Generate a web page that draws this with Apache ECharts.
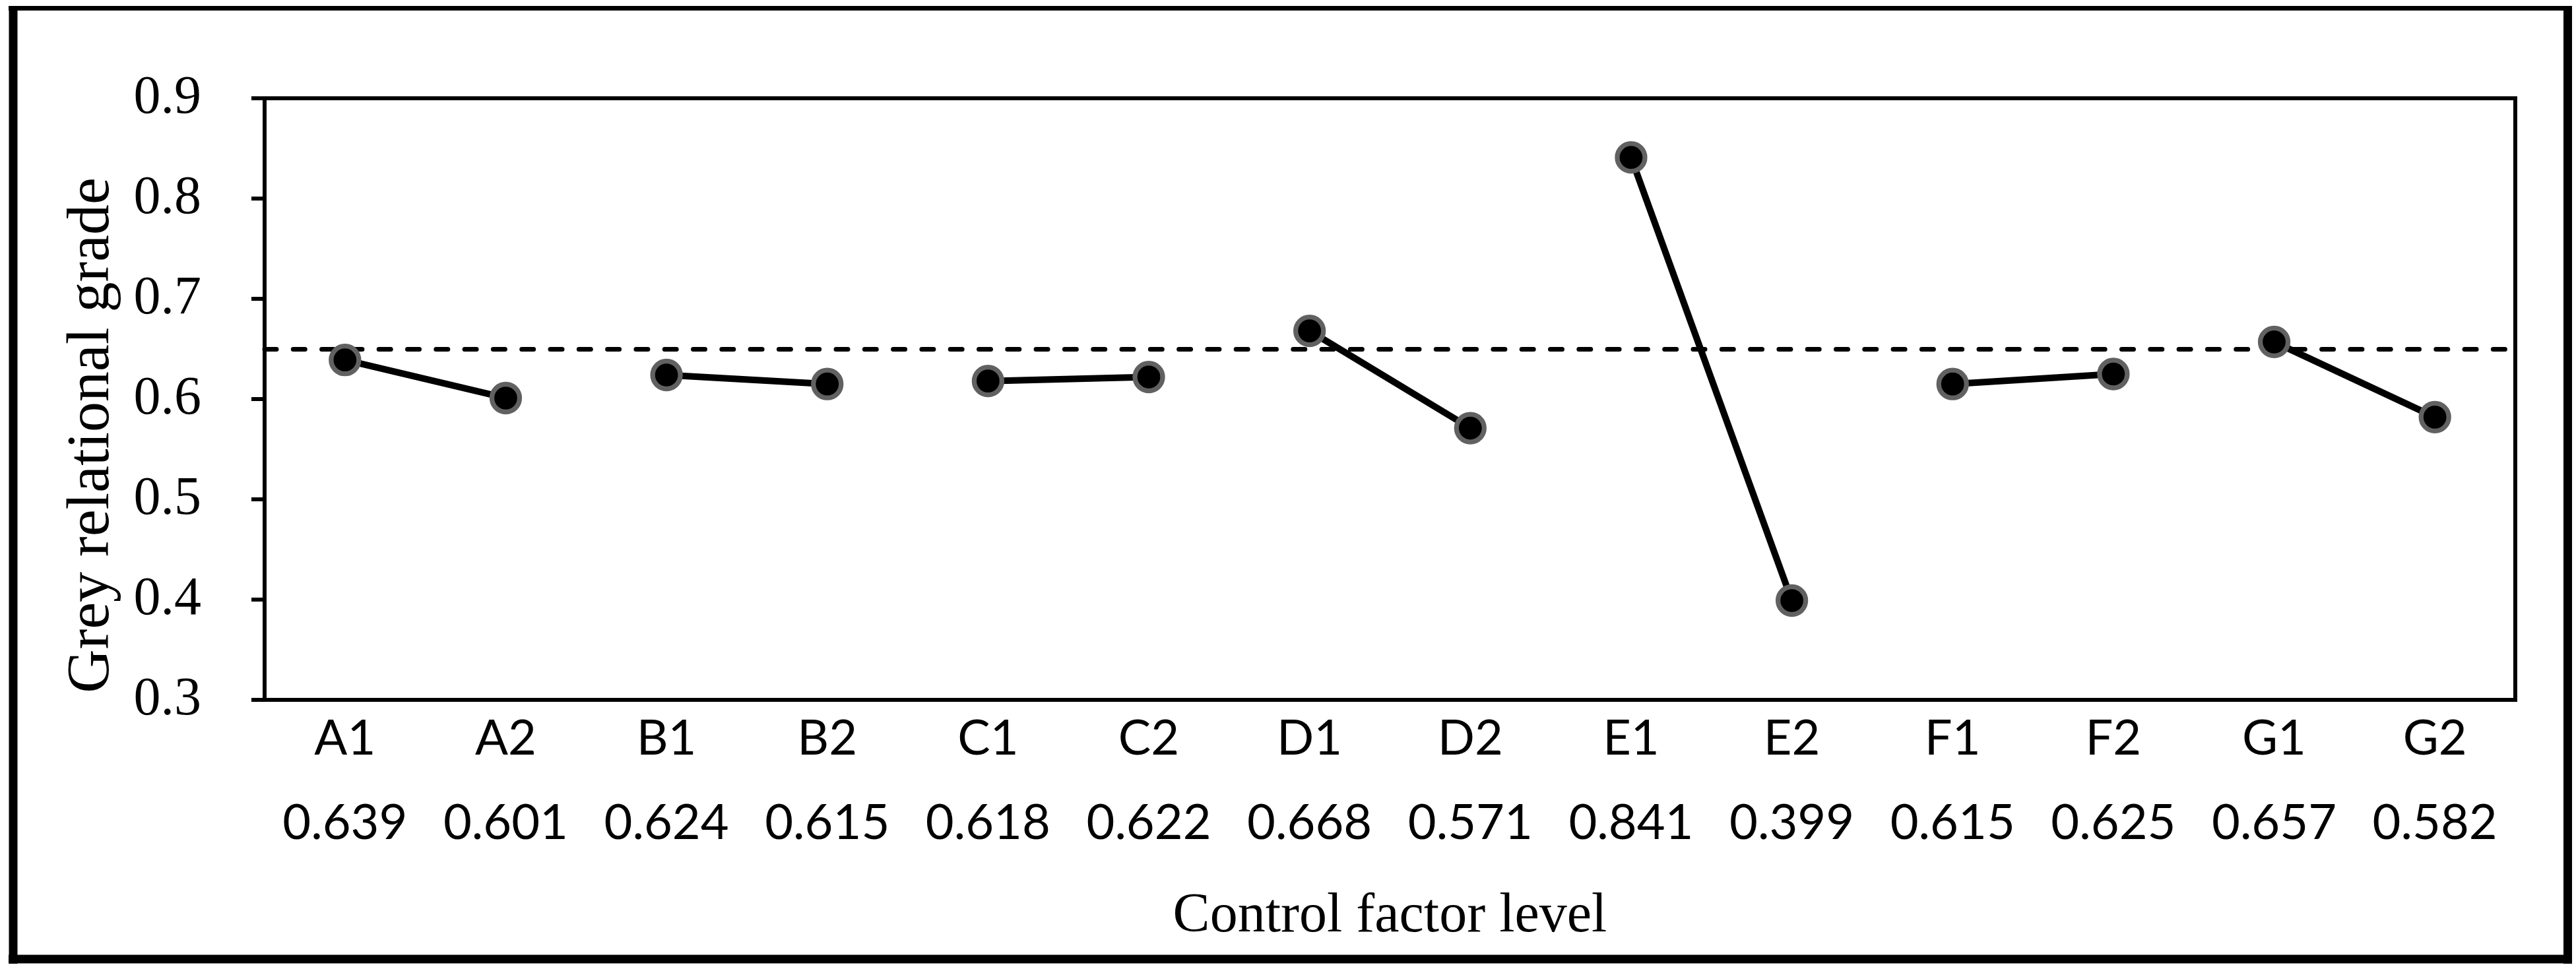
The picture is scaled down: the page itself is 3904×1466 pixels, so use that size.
<!DOCTYPE html>
<html>
<head>
<meta charset="utf-8">
<script src="https://cdn.jsdelivr.net/npm/echarts@6/dist/echarts.min.js"></script>
<style>
  html, body { margin: 0; padding: 0; background: #fff; }
  #chart { width: 3904px; height: 1466px; }
</style>
</head>
<body>
<div id="chart"></div>
<script>
// ---- data ----
const categories = ['A1','A2','B1','B2','C1','C2','D1','D2','E1','E2','F1','F2','G1','G2'];
const grades = [0.639, 0.601, 0.624, 0.615, 0.618, 0.622, 0.668, 0.571, 0.841, 0.399, 0.615, 0.625, 0.657, 0.582];
const factors = ['A','B','C','D','E','F','G'];
const meanGrade = 0.647;
const yTicks = [0.3, 0.4, 0.5, 0.6, 0.7, 0.8, 0.9];
const xTitle = 'Control factor level';
const yTitle = 'Grey relational grade';

// ---- build ----
const chart = echarts.init(document.getElementById('chart'), null, { renderer: 'canvas' });

const series = factors.map(function (f, k) {
  const data = categories.map(function (c, i) {
    return c.charAt(0) === f ? grades[i] : null;
  });
  const s = {
    type: 'line',
    name: f,
    data: data,
    connectNulls: false,
    symbol: 'circle',
    symbolSize: 42,
    lineStyle: { color: '#000', width: 10 },
    itemStyle: { color: '#000', borderColor: '#616161', borderWidth: 7.3 },
    emphasis: { disabled: true },
    z: 3
  };
  if (k === 0) {
    s.markLine = {
      silent: true,
      symbol: ['none', 'none'],
      label: { show: false },
      lineStyle: { color: '#000', width: 7, type: [18, 25.3], cap: 'round' },
      data: [{ yAxis: meanGrade }],
      z: 2
    };
  }
  return s;
});

const option = {
  animation: false,
  backgroundColor: '#fff',
  grid: {
    left: 401, right: 92, top: 149, bottom: 405,
    show: true, borderColor: '#000', borderWidth: 6, backgroundColor: 'transparent'
  },
  xAxis: {
    type: 'category',
    data: categories,
    boundaryGap: true,
    axisLine: { show: true, lineStyle: { color: '#000', width: 6 } },
    axisTick: { show: false },
    splitLine: { show: false },
    axisLabel: {
      interval: 0,
      margin: 9,
      formatter: function (v, i) {
        return '{n|' + v + '}\n{v|' + grades[i].toFixed(3) + '}';
      },
      rich: {
        n: { fontFamily: 'Lato', fontSize: 74, lineHeight: 100, color: '#000' },
        v: { fontFamily: 'Lato', fontSize: 74, lineHeight: 156, color: '#000' }
      }
    },
    name: xTitle,
    nameLocation: 'middle',
    nameGap: 287,
    nameTextStyle: { fontFamily: 'Liberation Serif', fontSize: 84, color: '#000' }
  },
  yAxis: {
    type: 'value',
    min: yTicks[0],
    max: yTicks[yTicks.length - 1],
    interval: 0.1,
    axisLine: { show: true, lineStyle: { color: '#000', width: 6 } },
    axisTick: { show: true, inside: false, length: 20, lineStyle: { color: '#000', width: 6 } },
    splitLine: { show: false },
    axisLabel: {
      margin: 96,
      fontFamily: 'Liberation Serif',
      fontSize: 82,
      color: '#000',
      formatter: function (v) { return v.toFixed(1); }
    }
  },
  graphic: [
    {
      type: 'text',
      x: 140, y: 660,
      rotation: Math.PI / 2,
      style: {
        text: yTitle,
        fontFamily: 'Liberation Serif',
        fontSize: 92,
        fill: '#000',
        align: 'center',
        verticalAlign: 'middle'
      }
    },
    { type: 'line', shape: { x1: 13, y1: 12.5, x2: 3898, y2: 12.5 }, style: { stroke: '#000', lineWidth: 7 } },
    { type: 'line', shape: { x1: 20, y1: 9, x2: 20, y2: 1461 }, style: { stroke: '#000', lineWidth: 13 } },
    { type: 'line', shape: { x1: 3891.5, y1: 9, x2: 3891.5, y2: 1461 }, style: { stroke: '#000', lineWidth: 13 } },
    { type: 'line', shape: { x1: 13, y1: 1454, x2: 3898, y2: 1454 }, style: { stroke: '#000', lineWidth: 13 } }
  ],
  series: series
};

chart.setOption(option);
</script>
</body>
</html>
